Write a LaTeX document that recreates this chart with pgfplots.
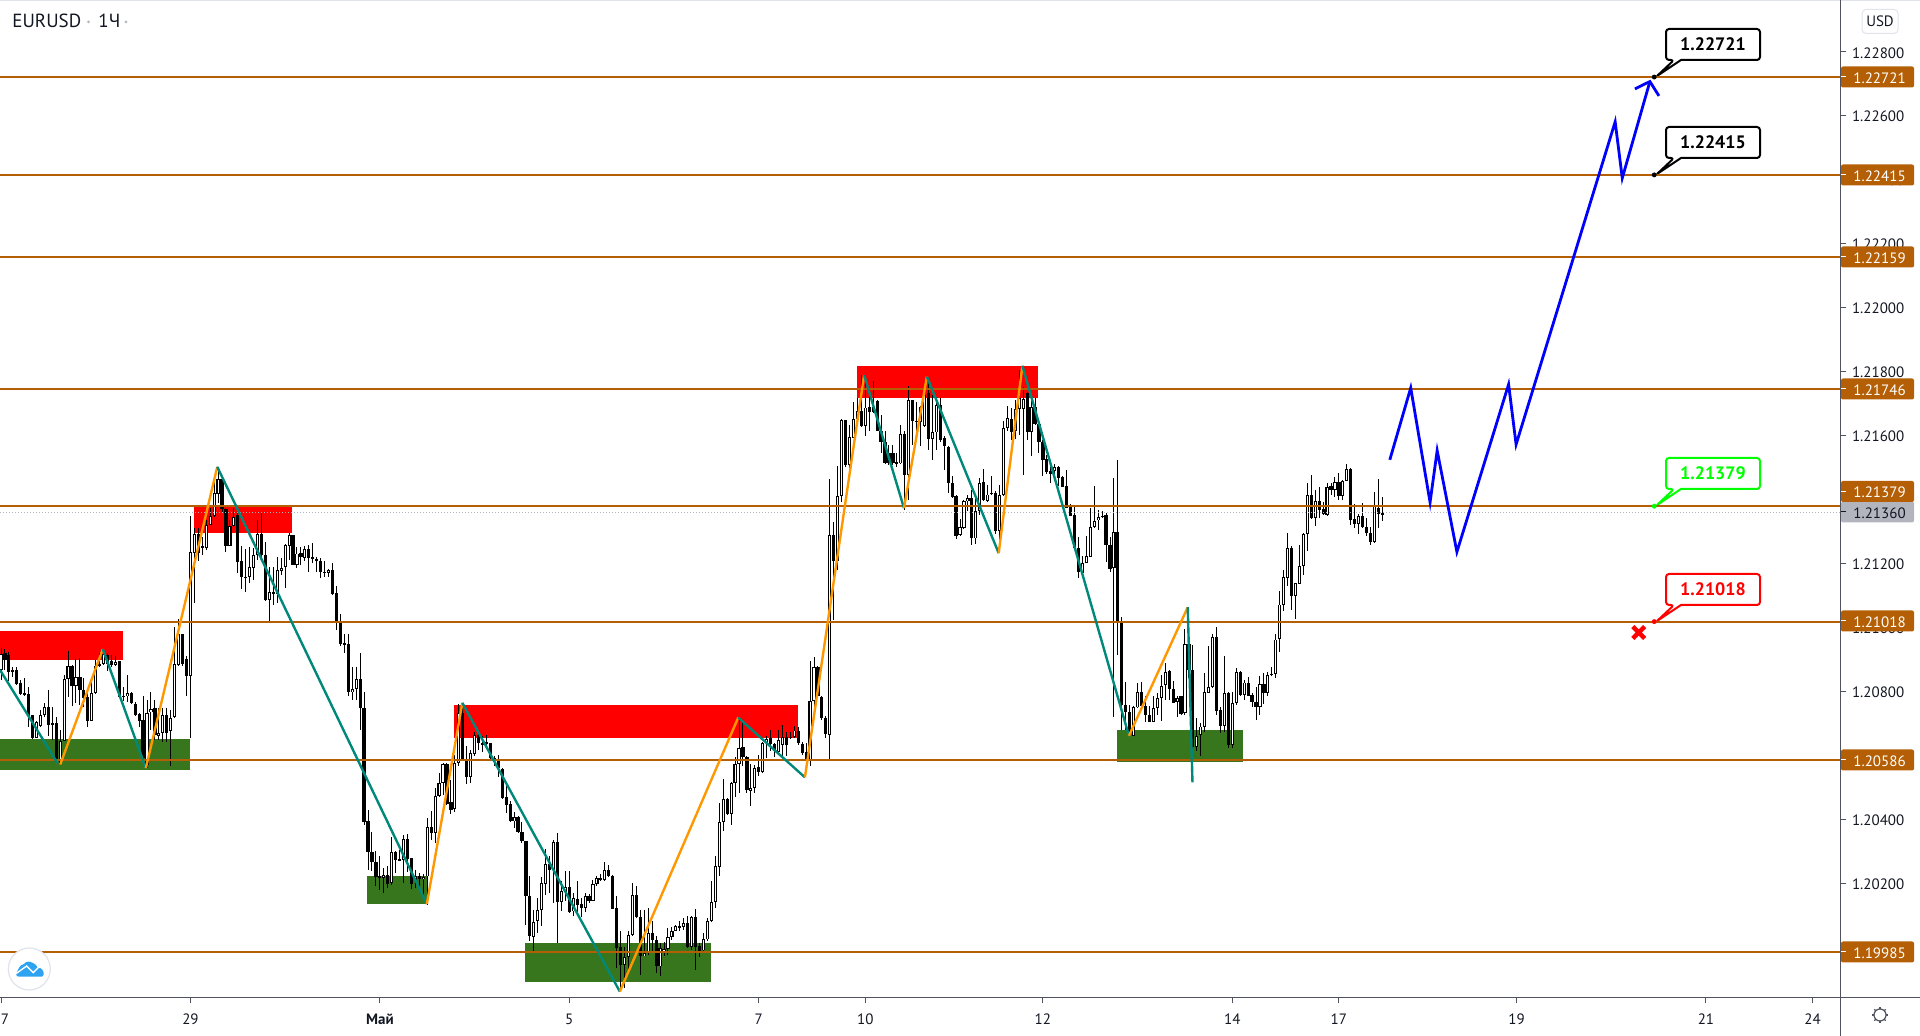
\documentclass[border=0pt]{standalone}
\usepackage{fontspec}
\setmainfont{PT Sans}
\usepackage{pgfplots}
\usepackage{pgfplotstable}
\pgfplotsset{compat=1.18}
\definecolor{lvl}{HTML}{B45F06}
\definecolor{tealz}{HTML}{00897B}
\definecolor{orgz}{HTML}{FF9800}
\definecolor{zgreen}{HTML}{38761D}
\definecolor{axc}{HTML}{50535E}
\definecolor{txt}{HTML}{131722}
\definecolor{gry}{HTML}{B2B5BE}
\definecolor{lgt}{HTML}{E0E3EB}
\definecolor{logo}{HTML}{2EA3F2}
% hourly EURUSD: t open high low close
\pgfplotstableread{
t o h l c
0 1.20867 1.20935 1.20836 1.20919
1 1.20919 1.20932 1.20867 1.20898
2 1.20914 1.20924 1.20831 1.20860
3 1.20860 1.20877 1.20846 1.20867
4 1.20867 1.20877 1.20820 1.20825
5 1.20825 1.20836 1.20789 1.20792
6 1.20794 1.20841 1.20789 1.20790
7 1.20791 1.20813 1.20690 1.20724
8 1.20724 1.20726 1.20653 1.20655
9 1.20657 1.20706 1.20655 1.20706
10 1.20693 1.20742 1.20688 1.20727
11 1.20727 1.20765 1.20721 1.20752
12 1.20753 1.20805 1.20659 1.20697
13 1.20697 1.20752 1.20648 1.20702
14 1.20702 1.20719 1.20575 1.20580
15 1.20572 1.20680 1.20570 1.20646
16 1.20646 1.20851 1.20645 1.20838
17 1.20838 1.20926 1.20781 1.20881
18 1.20881 1.20883 1.20754 1.20818
19 1.20818 1.20900 1.20763 1.20846
20 1.20846 1.20903 1.20758 1.20807
21 1.20807 1.20841 1.20752 1.20782
22 1.20784 1.20794 1.20690 1.20709
23 1.20709 1.20836 1.20706 1.20797
24 1.20796 1.20898 1.20792 1.20879
25 1.20881 1.20919 1.20877 1.20886
26 1.20886 1.20930 1.20883 1.20919
27 1.20914 1.20919 1.20862 1.20886
28 1.20895 1.20914 1.20877 1.20883
29 1.20883 1.20909 1.20879 1.20893
30 1.20895 1.20896 1.20778 1.20784
31 1.20785 1.20813 1.20771 1.20783
32 1.20784 1.20851 1.20768 1.20794
33 1.20794 1.20797 1.20761 1.20763
34 1.20763 1.20768 1.20724 1.20728
35 1.20729 1.20732 1.20690 1.20709
36 1.20709 1.20786 1.20586 1.20591
37 1.20570 1.20773 1.20560 1.20735
38 1.20735 1.20797 1.20679 1.20747
39 1.20747 1.20773 1.20648 1.20664
40 1.20662 1.20747 1.20648 1.20669
41 1.20669 1.20747 1.20643 1.20726
42 1.20726 1.20747 1.20643 1.20669
43 1.20677 1.20742 1.20567 1.20719
44 1.20719 1.21000 1.20716 1.20886
45 1.20883 1.21025 1.20880 1.20979
46 1.20979 1.20979 1.20880 1.20885
47 1.20901 1.20911 1.20784 1.20849
48 1.20849 1.21348 1.20655 1.21235
49 1.21235 1.21310 1.21075 1.21294
50 1.21294 1.21310 1.21208 1.21234
51 1.21257 1.21284 1.21226 1.21249
52 1.21249 1.21336 1.21242 1.21322
53 1.21322 1.21372 1.21320 1.21349
54 1.21349 1.21466 1.21344 1.21419
55 1.21419 1.21497 1.21388 1.21464
56 1.21464 1.21464 1.21357 1.21372
57 1.21372 1.21374 1.21237 1.21256
58 1.21256 1.21336 1.21253 1.21318
59 1.21318 1.21372 1.21315 1.21347
60 1.21352 1.21372 1.21169 1.21206
61 1.21208 1.21253 1.21120 1.21157
62 1.21155 1.21244 1.21112 1.21158
63 1.21157 1.21250 1.21138 1.21188
64 1.21188 1.21247 1.21148 1.21228
65 1.21228 1.21336 1.21211 1.21294
66 1.21294 1.21357 1.21221 1.21227
67 1.21227 1.21266 1.21084 1.21086
68 1.21086 1.21190 1.21021 1.21112
69 1.21112 1.21190 1.21070 1.21104
70 1.21105 1.21221 1.21075 1.21179
71 1.21178 1.21216 1.21164 1.21188
72 1.21188 1.21261 1.21124 1.21257
73 1.21257 1.21294 1.21211 1.21289
74 1.21289 1.21289 1.21195 1.21195
75 1.21196 1.21250 1.21185 1.21232
76 1.21232 1.21250 1.21195 1.21219
77 1.21219 1.21253 1.21206 1.21245
78 1.21245 1.21258 1.21174 1.21219
79 1.21219 1.21265 1.21200 1.21213
80 1.21213 1.21219 1.21174 1.21207
81 1.21207 1.21216 1.21154 1.21173
82 1.21175 1.21206 1.21159 1.21172
83 1.21171 1.21182 1.21156 1.21179
84 1.21179 1.21200 1.21101 1.21105
85 1.21107 1.21130 1.20992 1.21020
86 1.21020 1.21042 1.20942 1.20948
87 1.20950 1.20980 1.20919 1.20948
88 1.20950 1.20980 1.20786 1.20799
89 1.20799 1.20877 1.20773 1.20807
90 1.20807 1.20875 1.20773 1.20838
91 1.20838 1.20919 1.20679 1.20750
92 1.20750 1.20797 1.20383 1.20393
93 1.20394 1.20430 1.20240 1.20296
94 1.20297 1.20360 1.20239 1.20268
95 1.20268 1.20302 1.20190 1.20221
96 1.20221 1.20284 1.20180 1.20215
97 1.20215 1.20247 1.20169 1.20227
98 1.20227 1.20255 1.20185 1.20199
99 1.20200 1.20346 1.20195 1.20297
100 1.20297 1.20302 1.20232 1.20271
101 1.20275 1.20305 1.20268 1.20272
102 1.20273 1.20351 1.20200 1.20340
103 1.20340 1.20355 1.20234 1.20277
104 1.20279 1.20279 1.20182 1.20197
105 1.20211 1.20242 1.20185 1.20223
106 1.20223 1.20232 1.20182 1.20214
107 1.20214 1.20230 1.20164 1.20221
108 1.20221 1.20404 1.20133 1.20377
109 1.20377 1.20426 1.20336 1.20357
110 1.20357 1.20497 1.20325 1.20474
111 1.20474 1.20544 1.20471 1.20513
112 1.20513 1.20575 1.20476 1.20573
113 1.20573 1.20575 1.20445 1.20448
114 1.20456 1.20523 1.20417 1.20430
115 1.20432 1.20602 1.20424 1.20575
116 1.20575 1.20761 1.20567 1.20732
117 1.20732 1.20763 1.20586 1.20588
118 1.20588 1.20628 1.20511 1.20532
119 1.20531 1.20617 1.20513 1.20607
120 1.20607 1.20674 1.20598 1.20664
121 1.20664 1.20674 1.20617 1.20638
122 1.20638 1.20659 1.20609 1.20636
123 1.20636 1.20664 1.20622 1.20640
124 1.20638 1.20638 1.20586 1.20594
125 1.20594 1.20598 1.20567 1.20588
126 1.20588 1.20602 1.20532 1.20560
127 1.20559 1.20560 1.20464 1.20468
128 1.20469 1.20503 1.20419 1.20447
129 1.20447 1.20456 1.20390 1.20393
130 1.20393 1.20424 1.20372 1.20407
131 1.20409 1.20409 1.20357 1.20360
132 1.20360 1.20390 1.20325 1.20331
133 1.20332 1.20332 1.20070 1.20159
134 1.20159 1.20223 1.20018 1.20034
135 1.20034 1.20117 1.19987 1.20081
136 1.20081 1.20153 1.20044 1.20117
137 1.20117 1.20219 1.20065 1.20200
138 1.20200 1.20307 1.20164 1.20260
139 1.20260 1.20284 1.20169 1.20242
140 1.20242 1.20336 1.20138 1.20329
141 1.20329 1.20357 1.20013 1.20143
142 1.20143 1.20206 1.20112 1.20176
143 1.20174 1.20237 1.20143 1.20188
144 1.20188 1.20237 1.20107 1.20112
145 1.20112 1.20169 1.20096 1.20153
146 1.20153 1.20206 1.20107 1.20133
147 1.20136 1.20153 1.20094 1.20122
148 1.20122 1.20169 1.20109 1.20159
149 1.20159 1.20167 1.20138 1.20146
150 1.20146 1.20211 1.20143 1.20198
151 1.20198 1.20223 1.20192 1.20216
152 1.20216 1.20230 1.20206 1.20211
153 1.20211 1.20266 1.20206 1.20240
154 1.20240 1.20258 1.20221 1.20224
155 1.20225 1.20226 1.20119 1.20122
156 1.20125 1.20159 1.19935 1.19999
157 1.20000 1.20049 1.19862 1.19945
158 1.19945 1.20000 1.19872 1.19969
159 1.19969 1.20049 1.19919 1.20039
160 1.20039 1.20200 1.20034 1.20163
161 1.20163 1.20190 1.20091 1.20094
162 1.20094 1.20117 1.19914 1.19973
163 1.19973 1.20117 1.19971 1.19982
164 1.19982 1.20122 1.19976 1.20044
165 1.20044 1.20081 1.19987 1.20023
166 1.20023 1.20034 1.19919 1.19940
167 1.19940 1.20013 1.19911 1.19997
168 1.19984 1.20015 1.19971 1.19997
169 1.19997 1.20060 1.19976 1.20032
170 1.20032 1.20063 1.20023 1.20052
171 1.20052 1.20070 1.20049 1.20067
172 1.20063 1.20081 1.20049 1.20067
173 1.20063 1.20091 1.20054 1.20075
174 1.20075 1.20098 1.20000 1.20002
175 1.20002 1.20098 1.19992 1.20094
176 1.20094 1.20119 1.19929 1.20002
177 1.20005 1.20013 1.19969 1.19990
178 1.19990 1.20044 1.19987 1.20025
179 1.20025 1.20091 1.20018 1.20083
180 1.20083 1.20206 1.20078 1.20141
181 1.20141 1.20286 1.20122 1.20252
182 1.20252 1.20450 1.20221 1.20393
183 1.20393 1.20525 1.20362 1.20466
184 1.20466 1.20466 1.20414 1.20417
185 1.20417 1.20518 1.20383 1.20513
186 1.20513 1.20596 1.20469 1.20573
187 1.20573 1.20713 1.20482 1.20625
188 1.20625 1.20711 1.20565 1.20596
189 1.20596 1.20598 1.20482 1.20490
190 1.20490 1.20573 1.20440 1.20500
191 1.20500 1.20570 1.20482 1.20563
192 1.20563 1.20602 1.20534 1.20549
193 1.20549 1.20643 1.20544 1.20638
194 1.20638 1.20659 1.20591 1.20650
195 1.20654 1.20680 1.20612 1.20636
196 1.20636 1.20638 1.20596 1.20612
197 1.20612 1.20680 1.20607 1.20650
198 1.20633 1.20695 1.20596 1.20657
199 1.20657 1.20674 1.20598 1.20633
200 1.20657 1.20674 1.20654 1.20655
201 1.20657 1.20692 1.20654 1.20678
202 1.20678 1.20690 1.20633 1.20638
203 1.20638 1.20643 1.20602 1.20609
204 1.20609 1.20638 1.20563 1.20581
205 1.20584 1.20894 1.20566 1.20769
206 1.20769 1.20907 1.20722 1.20876
207 1.20876 1.20878 1.20782 1.20784
208 1.20784 1.20786 1.20711 1.20717
209 1.20717 1.20722 1.20654 1.20665
210 1.20665 1.21464 1.20581 1.21289
211 1.21289 1.21331 1.21022 1.21209
212 1.21209 1.21506 1.21180 1.21410
213 1.21410 1.21652 1.21391 1.21649
214 1.21649 1.21649 1.21503 1.21508
215 1.21508 1.21634 1.21495 1.21595
216 1.21595 1.21706 1.21592 1.21654
217 1.21654 1.21717 1.21654 1.21677
218 1.21677 1.21790 1.21628 1.21630
219 1.21630 1.21790 1.21599 1.21689
220 1.21689 1.21748 1.21613 1.21675
221 1.21689 1.21769 1.21670 1.21675
222 1.21709 1.21712 1.21613 1.21616
223 1.21616 1.21665 1.21545 1.21581
224 1.21581 1.21613 1.21512 1.21514
225 1.21547 1.21571 1.21508 1.21514
226 1.21547 1.21571 1.21508 1.21514
227 1.21517 1.21545 1.21503 1.21514
228 1.21514 1.21634 1.21512 1.21607
229 1.21607 1.21613 1.21368 1.21477
230 1.21477 1.21755 1.21399 1.21710
231 1.21710 1.21712 1.21571 1.21644
232 1.21646 1.21706 1.21587 1.21644
233 1.21644 1.21691 1.21566 1.21691
234 1.21630 1.21727 1.21626 1.21727
235 1.21733 1.21769 1.21555 1.21592
236 1.21592 1.21727 1.21524 1.21611
237 1.21611 1.21722 1.21555 1.21696
238 1.21696 1.21717 1.21581 1.21587
239 1.21592 1.21597 1.21491 1.21566
240 1.21566 1.21568 1.21420 1.21453
241 1.21454 1.21474 1.21404 1.21410
242 1.21412 1.21415 1.21277 1.21288
243 1.21288 1.21339 1.21285 1.21313
244 1.21313 1.21399 1.21308 1.21396
245 1.21394 1.21415 1.21363 1.21404
246 1.21404 1.21430 1.21258 1.21279
247 1.21279 1.21415 1.21262 1.21365
248 1.21365 1.21467 1.21352 1.21454
249 1.21454 1.21495 1.21394 1.21399
250 1.21396 1.21446 1.21392 1.21417
251 1.21417 1.21472 1.21415 1.21422
252 1.21422 1.21425 1.21293 1.21303
253 1.21303 1.21446 1.21232 1.21415
254 1.21415 1.21644 1.21410 1.21623
255 1.21623 1.21691 1.21613 1.21654
256 1.21654 1.21686 1.21587 1.21613
257 1.21613 1.21712 1.21589 1.21683
258 1.21683 1.21805 1.21602 1.21717
259 1.21683 1.21753 1.21477 1.21714
260 1.21733 1.21735 1.21587 1.21613
261 1.21613 1.21727 1.21535 1.21691
262 1.21691 1.21717 1.21634 1.21637
263 1.21637 1.21644 1.21545 1.21581
264 1.21581 1.21587 1.21472 1.21524
265 1.21526 1.21540 1.21480 1.21488
266 1.21491 1.21514 1.21451 1.21480
267 1.21491 1.21512 1.21480 1.21501
268 1.21503 1.21505 1.21441 1.21467
269 1.21472 1.21474 1.21439 1.21441
270 1.21443 1.21493 1.21373 1.21376
271 1.21376 1.21387 1.21347 1.21350
272 1.21352 1.21378 1.21243 1.21248
273 1.21248 1.21284 1.21154 1.21172
274 1.21172 1.21222 1.21170 1.21203
275 1.21203 1.21287 1.21201 1.21224
276 1.21222 1.21373 1.21220 1.21316
277 1.21316 1.21441 1.21311 1.21334
278 1.21334 1.21368 1.21303 1.21345
279 1.21345 1.21365 1.21342 1.21350
280 1.21352 1.21357 1.21204 1.21258
281 1.21258 1.21284 1.21172 1.21185
282 1.21185 1.21467 1.20719 1.21300
283 1.21300 1.21524 1.20915 1.21014
284 1.21014 1.21034 1.20680 1.20758
285 1.20760 1.20828 1.20680 1.20737
286 1.20737 1.20758 1.20659 1.20665
287 1.20661 1.20755 1.20659 1.20751
288 1.20751 1.20826 1.20748 1.20798
289 1.20798 1.20828 1.20753 1.20755
290 1.20755 1.20784 1.20703 1.20725
291 1.20727 1.20753 1.20704 1.20706
292 1.20706 1.20784 1.20704 1.20748
293 1.20748 1.20795 1.20727 1.20779
294 1.20779 1.20852 1.20706 1.20819
295 1.20819 1.20889 1.20774 1.20862
296 1.20865 1.20868 1.20774 1.20808
297 1.20808 1.20831 1.20763 1.20766
298 1.20766 1.20784 1.20719 1.20781
299 1.20784 1.20784 1.20727 1.20730
300 1.20732 1.20994 1.20726 1.20950
301 1.20950 1.20950 1.20841 1.20867
302 1.20867 1.20945 1.20612 1.20627
303 1.20627 1.20716 1.20612 1.20662
304 1.20662 1.20700 1.20598 1.20690
305 1.20690 1.20857 1.20674 1.20797
306 1.20797 1.20942 1.20794 1.20815
307 1.20815 1.20980 1.20810 1.20971
308 1.20971 1.21000 1.20726 1.20740
309 1.20742 1.20752 1.20671 1.20693
310 1.20693 1.20911 1.20674 1.20797
311 1.20797 1.20799 1.20622 1.20633
312 1.20633 1.20799 1.20622 1.20763
313 1.20763 1.20872 1.20758 1.20860
314 1.20860 1.20865 1.20786 1.20789
315 1.20789 1.20836 1.20773 1.20828
316 1.20828 1.20844 1.20784 1.20787
317 1.20789 1.20794 1.20752 1.20768
318 1.20768 1.20815 1.20709 1.20752
319 1.20752 1.20848 1.20726 1.20825
320 1.20825 1.20857 1.20761 1.20796
321 1.20796 1.20859 1.20786 1.20853
322 1.20854 1.20877 1.20851 1.20852
323 1.20855 1.20980 1.20841 1.20963
324 1.20963 1.21114 1.20924 1.21072
325 1.21072 1.21180 1.21052 1.21157
326 1.21157 1.21294 1.21130 1.21250
327 1.21250 1.21253 1.21055 1.21099
328 1.21099 1.21140 1.21026 1.21138
329 1.21138 1.21258 1.21136 1.21194
330 1.21194 1.21294 1.21164 1.21294
331 1.21294 1.21451 1.21240 1.21413
332 1.21413 1.21477 1.21341 1.21343
333 1.21343 1.21430 1.21317 1.21396
334 1.21396 1.21438 1.21341 1.21367
335 1.21369 1.21393 1.21352 1.21353
336 1.21353 1.21451 1.21349 1.21440
337 1.21442 1.21453 1.21414 1.21430
338 1.21430 1.21469 1.21409 1.21456
339 1.21456 1.21482 1.21398 1.21411
340 1.21411 1.21461 1.21398 1.21459
341 1.21459 1.21511 1.21459 1.21497
342 1.21497 1.21497 1.21320 1.21336
343 1.21338 1.21386 1.21310 1.21323
344 1.21323 1.21353 1.21291 1.21350
345 1.21350 1.21388 1.21313 1.21315
346 1.21315 1.21341 1.21286 1.21296
347 1.21296 1.21315 1.21258 1.21268
348 1.21268 1.21424 1.21263 1.21378
349 1.21376 1.21463 1.21310 1.21357
350 1.21358 1.21409 1.21333 1.21356
}\candles
\newcommand{\zone}[5]{\addplot[fill=#5,draw=none,forget plot] coordinates {(#1,#3) (#2,#3) (#2,#4) (#1,#4)} -- cycle;}
\newcommand{\level}[1]{\addplot[lvl,line width=1pt,forget plot] coordinates {(-0.2534,#1) (466.1,#1)};}
% speech-bubble label, coordinates in picture pixels
\newcommand{\callout}[3]{%
  \draw[#2,line width=1pt,fill=white,line join=round] (1681,{#1+31}) [rounded corners=1.5pt] -- (1760,{#1+31}) -- (1760,#1) -- (1666,#1) -- (1666,{#1+31}) -- (1674,{#1+31}) [sharp corners] -- (1657,{#1+47}) -- cycle;
  \node[text=#2,font=\fontsize{9}{10}\selectfont\bfseries] at (1713,{#1+15.5}) {#3};}
\newcommand{\pricetag}[4]{% y centre, fill, text colour, text
  \fill[#2,rounded corners=1pt] (1841,{#1-10.5}) rectangle (1914,{#1+10.5});
  \draw[#3,line width=0.5pt] (1841,#1) -- (1846,#1);
  \node[anchor=west,inner sep=0pt,text=#3,font=\fontsize{7.5}{8}\selectfont] at (1853,{#1+1}) {#4};}
\tikzset{px/.style={x=0.5pt,y=-0.5pt,shift={(0pt,518pt)}}}
\pgfplotsset{candle/.style={draw=none,mark=none,forget plot,error bars/.cd,y dir=both,y explicit,error mark=none,error bar style={draw,#1,line cap=butt}}}
\begin{document}
\begin{tikzpicture}
\useasboundingbox (0pt,0pt) rectangle (960pt,518pt);
\begin{scope}[px]
\fill[lgt] (0,0) rectangle (1920,1.5);
\callout{29}{black}{1.22721}
\callout{127}{black}{1.22415}
\callout{458}{green}{1.21379}
\callout{574}{red}{1.21018}
\end{scope}
\begin{axis}[
  at={(0pt,19pt)},anchor=south west,
  scale only axis,width=920.25pt,height=499pt,
  xmin=-0.2534,xmax=466.1,ymin=1.19841,ymax=1.22962,
  axis x line*=bottom,axis y line*=right,
  axis line style={draw=axc,-,line width=0.5pt},
  tick align=outside,major tick length=2.75pt,
  tick style={draw=axc,line width=0.5pt},
  xtick={0,48,96,144,192,219,264,312,339,384,432,459},
  xticklabels={\makebox[0pt][l]{7},29,\textbf{Май},5,7,10,12,14,17,19,21,24},
  ytick={1.200,1.202,1.204,1.206,1.208,1.210,1.212,1.214,1.216,1.218,1.220,1.222,1.224,1.226,1.228},
  scaled y ticks=false,
  tick label style={font=\fontsize{7.5}{8}\selectfont,text=txt},
  yticklabel style={anchor=west,inner sep=0pt,xshift=2.8pt,yshift=-0.5pt,/pgf/number format/fixed,/pgf/number format/fixed zerofill,/pgf/number format/precision=5,/pgf/number format/1000 sep={},/pgf/number format/assume math mode=true},
  xticklabel style={yshift=-1.5pt},
]
\zone{-0.2534}{30.9}{1.20989}{1.20898}{red}
\zone{-0.2534}{47.9}{1.20651}{1.20554}{zgreen}
\zone{48.9}{73.7}{1.21377}{1.21295}{red}
\zone{92.7}{107.9}{1.20223}{1.20135}{zgreen}
\zone{114.8}{201.9}{1.20757}{1.20654}{red}
\zone{132.8}{179.9}{1.20013}{1.19891}{zgreen}
\zone{216.9}{262.8}{1.21818}{1.21717}{red}
\zone{282.8}{314.7}{1.20679}{1.20579}{zgreen}
% wicks
\addplot[candle={black,line width=0.5pt}]
  table[x=t,y=c,y error plus expr=\thisrow{h}-\thisrow{c},y error minus expr=\thisrow{c}-\thisrow{l}] {\candles};
% bodies, white ones get an inner stroke
\addplot[candle={black,line width=1.6pt}]
  table[x=t,y expr={(\thisrow{o}+\thisrow{c})/2},y error plus expr={abs(\thisrow{c}-\thisrow{o})/2},y error minus expr={abs(\thisrow{c}-\thisrow{o})/2}] {\candles};
\addplot[candle={white,line width=0.55pt}]
  table[x=t,y expr={\thisrow{c}>\thisrow{o}+0.00006 ? (\thisrow{o}+\thisrow{c})/2 : nan},y error plus expr={abs(\thisrow{c}-\thisrow{o})/2-0.00003},y error minus expr={abs(\thisrow{c}-\thisrow{o})/2-0.00003}] {\candles};
% price levels
\level{1.22721}
\level{1.22415}
\level{1.22159}
\level{1.21746}
\level{1.21379}
\level{1.21018}
\level{1.20586}
\level{1.19985}
\addplot[gry,line width=0.5pt,dash pattern=on 0.5pt off 1pt,forget plot] coordinates {(-0.2534,1.21360) (466.1,1.21360)};
% zigzag legs
\addplot[tealz,line width=1.2pt] coordinates {(-0.25,1.20867) (14.3,1.20576)};
\addplot[orgz,line width=1.2pt] coordinates {(15,1.20571) (25.8,1.20932)};
\addplot[tealz,line width=1.2pt] coordinates {(25.8,1.20932) (36.7,1.20560)};
\addplot[orgz,line width=1.2pt] coordinates {(36.7,1.20560) (54.8,1.21502)};
\addplot[tealz,line width=1.2pt] coordinates {(54.8,1.21502) (107.9,1.20135)};
\addplot[orgz,line width=1.2pt] coordinates {(107.9,1.20135) (116.9,1.20764)};
\addplot[tealz,line width=1.2pt] coordinates {(116.9,1.20764) (156.8,1.19861)};
\addplot[orgz,line width=1.2pt] coordinates {(156.8,1.19861) (186.8,1.20718)};
\addplot[tealz,line width=1.2pt] coordinates {(186.8,1.20718) (203.7,1.20531)};
\addplot[orgz,line width=1.2pt] coordinates {(203.7,1.20531) (218.7,1.21789)};
\addplot[tealz,line width=1.2pt] coordinates {(218.7,1.21789) (228.8,1.21373)};
\addplot[orgz,line width=1.2pt] coordinates {(228.8,1.21373) (234.6,1.21784)};
\addplot[tealz,line width=1.2pt] coordinates {(234.6,1.21784) (252.8,1.21232)};
\addplot[orgz,line width=1.2pt] coordinates {(252.8,1.21232) (258.8,1.21818)};
\addplot[tealz,line width=1.2pt] coordinates {(258.8,1.21818) (285.8,1.20661)};
\addplot[orgz,line width=1.2pt] coordinates {(285.8,1.20661) (300.7,1.21063)};
\addplot[tealz,line width=1.2pt] coordinates {(300.7,1.21063) (301.9,1.20515)};
% forecast path
\addplot[blue,line width=1.4pt,miter limit=10] coordinates {(351.9,1.21524) (357.2,1.21749) (362.1,1.21391) (363.9,1.21553) (368.9,1.21236) (382,1.21760) (383.9,1.21572) (409,1.22581) (410.8,1.22405) (417.8,1.22707)};
\addplot[blue,line width=1.4pt] coordinates {(414,1.22684) (417.8,1.22707) (420.1,1.22662)};
% callout anchors
\addplot[only marks,mark=*,mark size=1pt,black] coordinates {(418.9,1.22721) (418.9,1.22415)};
\addplot[only marks,mark=*,mark size=1pt,green] coordinates {(418.9,1.21379)};
\addplot[only marks,mark=*,mark size=1pt,red] coordinates {(418.9,1.21018)};
\addplot[only marks,mark=x,mark size=4.2pt,red,line width=2.2pt] coordinates {(415,1.20984)};
\end{axis}
\begin{scope}[px]
\draw[axc,line width=0.5pt] (1840.5,0) -- (1840.5,1036) (0,998) -- (1920,998);
\pricetag{77}{lvl}{white}{1.22721}
\pricetag{175}{lvl}{white}{1.22415}
\pricetag{257}{lvl}{white}{1.22159}
\pricetag{389}{lvl}{white}{1.21746}
\pricetag{512}{gry}{txt}{1.21360}
\pricetag{491.5}{lvl}{white}{1.21379}
\pricetag{621}{lvl}{white}{1.21018}
\pricetag{760}{lvl}{white}{1.20586}
\pricetag{952}{lvl}{white}{1.19985}
% symbol line and buttons
\node[anchor=base west,inner sep=0pt,text=txt,font=\fontsize{9.5}{10}\selectfont] at (12,28) {EURUSD};
\node[anchor=base west,inner sep=0pt,text=txt,font=\fontsize{9.5}{10}\selectfont] at (98,28) {1Ч};
\fill[gry] (88.5,22) circle (1.5) (126,22) circle (1.5);
\draw[lgt,line width=0.5pt,rounded corners=2pt] (1862,9.5) rectangle (1898,33.5);
\node[text=txt,font=\fontsize{7.5}{8}\selectfont] at (1880,21.5) {USD};
% logo
\draw[lgt,line width=0.6pt,fill=white] (29.3,969) circle (21);
\fill[logo] (16,974) to[out=60,in=190] (24,964) to[out=60,in=150] (33,963) to[out=-20,in=120] (38,968) to[out=20,in=70] (43.5,975) to[out=-100,in=0] (41,976.7) -- (19,976.7) to[out=180,in=-90] cycle;
\draw[white,line width=0.7pt] (15.5,974) -- (26.7,966) -- (33.3,972.7) -- (40.7,965);
% settings gear
\draw[axc,line width=0.6pt] (1880,1015) circle (6);
\foreach \a in {0,45,...,315} \draw[axc,line width=0.6pt] (1880,1015) ++(\a:6) -- ++(\a:2);
\end{scope}
\end{tikzpicture}
\end{document}
